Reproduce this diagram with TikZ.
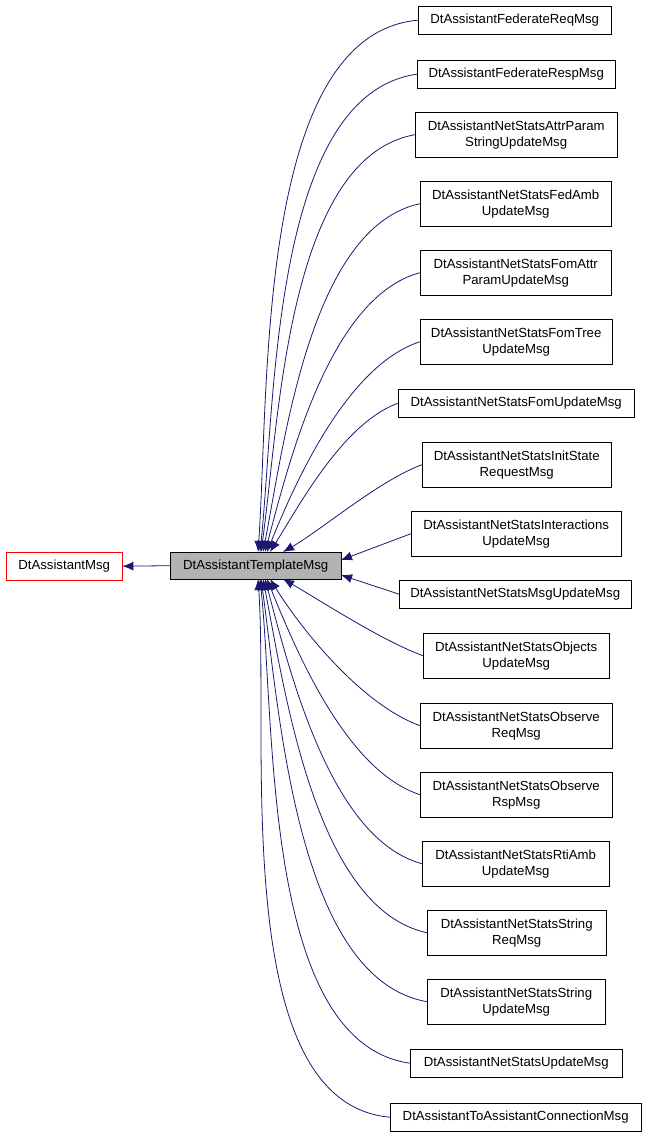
\documentclass[tikz,border=0pt]{standalone}
\usepackage{fontspec}
\setmainfont{Liberation Sans}
\usetikzlibrary{arrows.meta}
\begin{document}
\begin{tikzpicture}[x=1pt,y=-1pt,
  box/.style={draw=black,fill=white,inner sep=1pt,align=center,font=\fontsize{13.2}{16}\selectfont,anchor=north west},
  edge/.style={draw={rgb,255:red,25;green,25;blue,112},-{Latex[length=11pt,width=9pt]},line width=0.8pt}]
\path[use as bounding box] (0,0) rectangle (648,1139);
\newcommand\bx[6]{\node[box,minimum width=#4-#2,minimum height=#5-#3] (#1) at (#2,#3) {#6};}
\node[box,draw=red,minimum width=116,minimum height=28] (base) at (6,552) {DtAssistantMsg};
\node[box,fill=gray!60,minimum width=171,minimum height=27] (t) at (170,552) {DtAssistantTemplateMsg};
\bx{a}{418}{6}{611}{34}{DtAssistantFederateReqMsg}
\bx{b}{417}{60}{615}{88}{DtAssistantFederateRespMsg}
\bx{c}{415}{112}{617}{157}{DtAssistantNetStatsAttrParam\\StringUpdateMsg}
\bx{d}{420}{181}{611}{226}{DtAssistantNetStatsFedAmb\\UpdateMsg}
\bx{e}{420}{250}{611}{295}{DtAssistantNetStatsFomAttr\\ParamUpdateMsg}
\bx{f}{420}{319}{612}{364}{DtAssistantNetStatsFomTree\\UpdateMsg}
\bx{g}{398}{389}{634}{417}{DtAssistantNetStatsFomUpdateMsg}
\bx{h}{422}{442}{611}{487}{DtAssistantNetStatsInitState\\RequestMsg}
\bx{i}{411}{511}{621}{556}{DtAssistantNetStatsInteractions\\UpdateMsg}
\bx{j}{399}{580}{631}{608}{DtAssistantNetStatsMsgUpdateMsg}
\bx{k}{423}{633}{609}{678}{DtAssistantNetStatsObjects\\UpdateMsg}
\bx{l}{420}{703}{612}{748}{DtAssistantNetStatsObserve\\ReqMsg}
\bx{m}{420}{772}{612}{817}{DtAssistantNetStatsObserve\\RspMsg}
\bx{n}{422}{841}{609}{886}{DtAssistantNetStatsRtiAmb\\UpdateMsg}
\bx{o}{427}{910}{606}{955}{DtAssistantNetStatsString\\ReqMsg}
\bx{p}{427}{979}{605}{1024}{DtAssistantNetStatsString\\UpdateMsg}
\bx{q}{410}{1049}{622}{1077}{DtAssistantNetStatsUpdateMsg}
\bx{r}{390}{1103}{641}{1131}{DtAssistantToAssistantConnectionMsg}
\draw[edge] (t.west) -- (base.east);
\draw[edge] (a.west) to[out=185,in=86,looseness=0.75] (258,552);
\draw[edge] (b.west) to[out=188,in=84,looseness=0.75] (260,552);
\draw[edge] (c.west) to[out=190,in=82,looseness=0.75] (261,552);
\draw[edge] (d.west) to[out=192,in=79,looseness=0.75] (263,552);
\draw[edge] (e.west) to[out=195,in=75,looseness=0.75] (265,552);
\draw[edge] (f.west) to[out=198,in=68,looseness=0.75] (267,552);
\draw[edge] (g.west) to[out=200,in=58,looseness=0.75] (270,552);
\draw[edge] (h.west) to[out=200,in=30,looseness=0.7] (283,552);
\draw[edge] (i.west) -- (341,560);
\draw[edge] (j.west) -- (341,575);
\draw[edge] (k.west) to[out=160,in=-30,looseness=0.7] (283,579);
\draw[edge] (l.west) to[out=160,in=-58,looseness=0.75] (270,579);
\draw[edge] (m.west) to[out=162,in=-68,looseness=0.75] (267,579);
\draw[edge] (n.west) to[out=165,in=-75,looseness=0.75] (265,579);
\draw[edge] (o.west) to[out=168,in=-79,looseness=0.75] (263,579);
\draw[edge] (p.west) to[out=170,in=-82,looseness=0.75] (261,579);
\draw[edge] (q.west) to[out=172,in=-84,looseness=0.75] (260,579);
\draw[edge] (r.west) to[out=175,in=-86,looseness=0.75] (258,579);
\end{tikzpicture}
\end{document}
